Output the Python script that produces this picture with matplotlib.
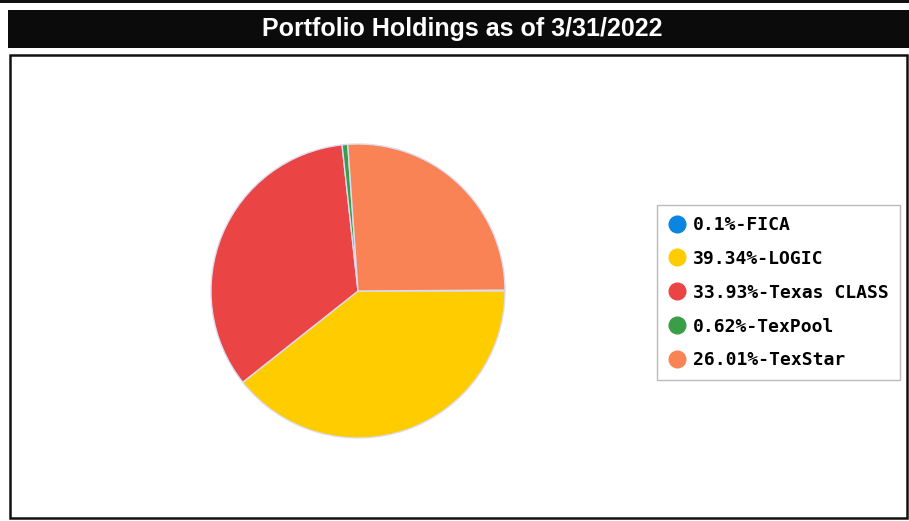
import matplotlib
matplotlib.use("Agg")
import matplotlib.pyplot as plt
from matplotlib.patches import Rectangle
from matplotlib.lines import Line2D

names = ["FICA", "LOGIC", "Texas CLASS", "TexPool", "TexStar"]
values = [0.1, 39.34, 33.93, 0.62, 26.01]
labels = ["0.1%-FICA", "39.34%-LOGIC", "33.93%-Texas CLASS", "0.62%-TexPool", "26.01%-TexStar"]
colors = ["#0a86e0", "#ffcc00", "#ea4444", "#3a9e48", "#fa8355"]
title = "Portfolio Holdings as of 3/31/2022"

W, H = 909, 521
fig = plt.figure(figsize=(W / 100, H / 100), dpi=100)
fig.patch.set_facecolor("white")

def fx(x): return x / W
def fy(y): return 1 - y / H

# top thin line (remnant of prior box)
fig.add_artist(Rectangle((fx(0), fy(3)), 1, 3 / H, transform=fig.transFigure,
                         facecolor="#111111", edgecolor="none", zorder=-5))
# title bar
fig.add_artist(Rectangle((fx(8), fy(48)), fx(909 - 8), 38 / H, transform=fig.transFigure,
                         facecolor="#0b0b0b", edgecolor="none", zorder=-5))
fig.text(fx(462), fy(29), title, color="white", fontsize=18, fontweight="bold",
         ha="center", va="center", family="Liberation Sans")
# content box
fig.add_artist(Rectangle((fx(10), fy(518)), fx(907 - 10), (518 - 55) / H,
                         transform=fig.transFigure, facecolor="none",
                         edgecolor="#111111", linewidth=1.8, zorder=-5))

# pie
cx, cy, r = 358, 291, 147
ax = fig.add_axes([fx(cx - r), fy(cy + r), 2 * r / W, 2 * r / H])
ax.pie(values, colors=colors, startangle=360 * values[0] / 100, counterclock=False,
       wedgeprops=dict(edgecolor="#dcdcf0", linewidth=1.0))
ax.set_aspect("equal")
ax.set_xlim(-1.0, 1.0)
ax.set_ylim(-1.0, 1.0)
ax.axis("off")

# legend
handles = [Line2D([], [], marker="o", linestyle="none", markersize=12,
                  markerfacecolor=c, markeredgecolor=c) for c in colors]
leg = fig.legend(handles, labels, loc="upper left",
                 bbox_to_anchor=(fx(657), fy(205)), frameon=True, fancybox=False,
                 edgecolor="#aaaaaa", handletextpad=0.4, labelspacing=0.88,
                 borderpad=0.6, handlelength=1.0, borderaxespad=0,
                 prop=dict(family="DejaVu Sans Mono", size=13, weight="bold"))
leg.get_frame().set_linewidth(1.0)
leg.set_zorder(5)

fig.savefig("out.png", dpi=100, facecolor="white")
